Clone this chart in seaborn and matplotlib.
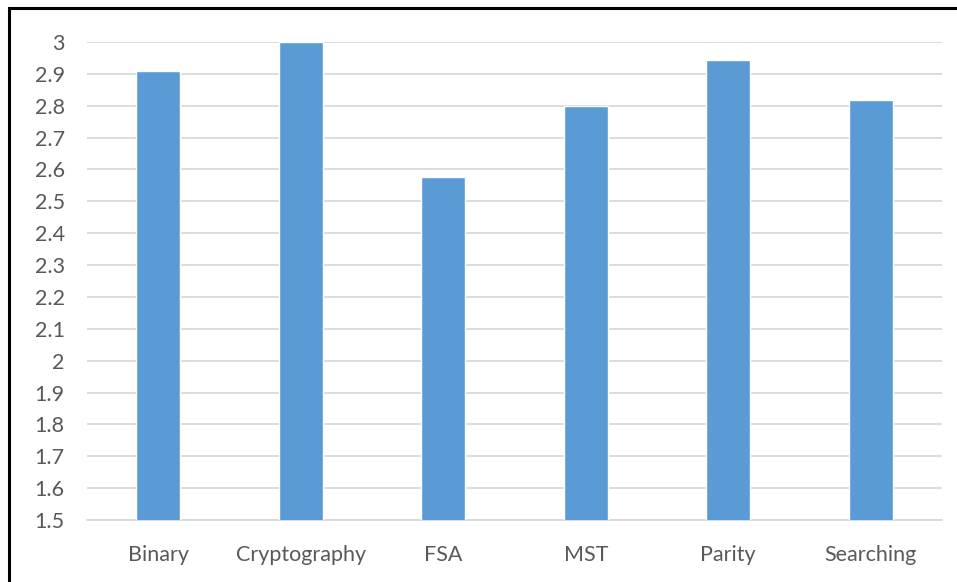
import matplotlib
matplotlib.use("Agg")
import matplotlib.pyplot as plt
import seaborn as sns
import pandas as pd
from matplotlib.patches import Rectangle

categories = ["Binary", "Cryptography", "FSA", "MST", "Parity", "Searching"]
scores = [2.909, 3.0, 2.575, 2.80, 2.944, 2.819]
y_ticks = [1.5, 1.6, 1.7, 1.8, 1.9, 2.0, 2.1, 2.2, 2.3, 2.4, 2.5, 2.6, 2.7, 2.8, 2.9, 3.0]
y_tick_labels = ["1.5", "1.6", "1.7", "1.8", "1.9", "2", "2.1", "2.2", "2.3", "2.4",
                 "2.5", "2.6", "2.7", "2.8", "2.9", "3"]

df = pd.DataFrame({"category": categories, "score": scores})

sns.set_theme(style="white")
plt.rcParams["font.family"] = ["Lato", "DejaVu Sans"]

W, H = 957, 582
fig = plt.figure(figsize=(W / 100, H / 100), dpi=100)
ax = fig.add_axes([87 / W, 1 - 520 / H, (942 - 87) / W, (520 - 42) / H])

sns.barplot(data=df, x="category", y="score", color="#5B9BD5", width=0.31,
            saturation=1, ax=ax, zorder=3)

ax.set_ylim(1.5, 3.0)
ax.set_xlim(-0.5, len(categories) - 0.5)
ax.set_yticks(y_ticks)
ax.set_yticklabels(y_tick_labels)
ax.yaxis.grid(True, color="#D9D9D9", linewidth=1.3, zorder=0)
ax.set_axisbelow(True)
for side in ["top", "right", "left", "bottom"]:
    ax.spines[side].set_visible(False)
ax.axhline(1.5, color="#D9D9D9", linewidth=1.3, zorder=1, clip_on=False)
ax.set_xlabel("")
ax.set_ylabel("")
ax.tick_params(axis="both", length=0, colors="#595959", labelsize=15.5)
ax.tick_params(axis="y", pad=16)
ax.tick_params(axis="x", pad=18)

# outer frame around the chart
fig.patches.append(Rectangle((8.5 / W, -0.1), 2.0, 1 - 7.5 / H + 0.1,
                             transform=fig.transFigure, fill=False,
                             edgecolor="black", linewidth=2.2))

fig.savefig("out.png", dpi=100, facecolor="white")
